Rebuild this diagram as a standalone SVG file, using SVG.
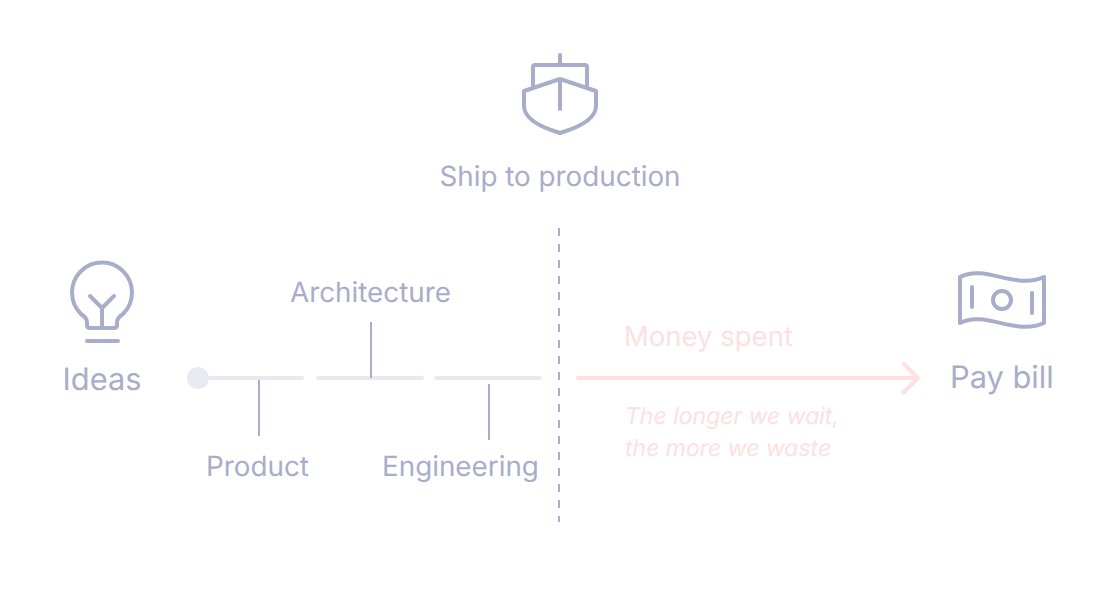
<svg xmlns="http://www.w3.org/2000/svg" width="1120" height="600" viewBox="0 0 1120 600">
<style>
text{font-family:Inter,"Noto Sans","Liberation Sans",sans-serif;font-size:27.8px;fill:#a8adca;text-rendering:geometricPrecision;opacity:.99}
.p{fill:#fde0df}
.n{font-size:23px;font-style:italic}
.l{font-size:30.8px}
.i{fill:none;stroke:#a8adca;stroke-width:4;stroke-linecap:round;stroke-linejoin:round}
.t{stroke:#e9e9f1;stroke-width:4;stroke-linecap:round;fill:none}
.v{stroke:#a8adca;stroke-width:2;fill:none}
.a{stroke:#fde0df;stroke-width:4;stroke-linecap:round;fill:none}
</style>
<rect width="1120" height="600" fill="#fff"/>
<g id="ship"><path class="i" d="M560 55V64M533 86V67Q533 65 535 65H585Q587 65 587 67V86M560 79V109M560 79L596 91V106C596 119 580 127 560 133C540 127 524 119 524 106V91Z"/>
<text x="560" y="186" text-anchor="middle">Ship to production</text></g>
<g id="ideas"><path class="i" d="M90 328H114Q117 328 117 325V322Q117 318 123 314A30 30 0 1 0 81 314Q87 318 87 322V325Q87 328 90 328ZM102 328V308M90 296L102 308L114 296M87 341H118"/>
<text class="l" x="102" y="390" text-anchor="middle">Ideas</text></g>
<g id="paybill"><path class="i" d="M960 277C985 264 1015 290 1044 277V323C1015 336 985 310 960 323ZM972 287V307M1032 293V313"/><circle class="i" cx="1002" cy="300" r="9"/>
<text class="l" x="950" y="388">Pay bill</text></g>
<g id="product"><text x="206" y="476">Product</text></g>
<g id="architecture"><text x="290" y="302">Architecture</text></g>
<g id="engineering"><text x="382" y="476">Engineering</text></g>
<g id="money"><text class="p" x="624" y="346" style="font-size:27.5px">Money spent</text>
<text class="p n" x="625" y="424">The longer we wait,</text>
<text class="p n" x="625" y="456">the more we waste</text></g>
<g id="connectors">
<circle cx="198" cy="378" r="11" fill="#e9e9f1"/>
<path class="t" d="M198 378H302M318 378H422M436 378H540"/>
<path class="v" d="M259 380V436M371 322V378M489 384V440"/>
<path class="v" d="M559 228V522" stroke-dasharray="8 8"/>
<path class="a" d="M578 378H918M904 364L918 378L904 392"/>
</g>
</svg>
